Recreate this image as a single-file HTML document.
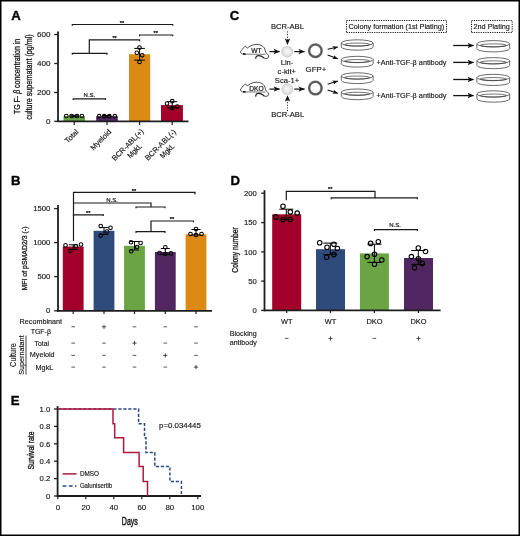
<!DOCTYPE html>
<html><head><meta charset="utf-8"><style>
html,body{margin:0;padding:0;background:#fff;}
svg{display:block;font-family:"Liberation Sans", sans-serif;will-change:transform;}
</style></head><body>
<svg width="520" height="536" viewBox="0 0 520 536">
<rect x="0" y="0" width="520" height="536" fill="#fff"/>
<defs>
<radialGradient id="gc" cx="50%" cy="50%" r="50%"><stop offset="0" stop-color="#f7f7f7"/><stop offset="0.6" stop-color="#e8e8e8"/><stop offset="1" stop-color="#cbcbcb"/></radialGradient>
<marker id="ah" viewBox="0 0 10 10" refX="9.5" refY="5" markerWidth="6.4" markerHeight="5.4" orient="auto" markerUnits="userSpaceOnUse" preserveAspectRatio="none"><path d="M0,0L10,5L0,10L2.5,5z" fill="#111"/></marker>
<marker id="ahs" viewBox="0 0 10 10" refX="9.5" refY="5" markerWidth="5.4" markerHeight="4.4" orient="auto" markerUnits="userSpaceOnUse" preserveAspectRatio="none"><path d="M0,0L10,5L0,10L2.5,5z" fill="#111"/></marker>
<marker id="ahd" viewBox="0 0 10 10" refX="9.5" refY="5" markerWidth="6.6" markerHeight="5.6" orient="auto" markerUnits="userSpaceOnUse" preserveAspectRatio="none"><path d="M0,0L10,5L0,10L2.5,5z" fill="#111"/></marker>
<filter id="bl" x="-20%" y="-20%" width="140%" height="140%"><feGaussianBlur stdDeviation="0.35"/></filter>
</defs>
<text x="11.2" y="19.6" font-size="13.2" text-anchor="start" font-weight="bold" fill="#000" stroke="#000" stroke-width="0.35" >A</text>
<rect x="63.5" y="116" width="21.5" height="5.299999999999997" fill="#6ba543"/>
<rect x="96.2" y="116.2" width="21.599999999999994" height="5.099999999999994" fill="#512761"/>
<rect x="129" y="54.2" width="21.19999999999999" height="67.1" fill="#db8a16"/>
<rect x="161" y="105.1" width="21.900000000000006" height="16.200000000000003" fill="#a3002b"/>
<path d="M134.29999999999998,48.4H144.9M139.6,48.4V60.1M134.29999999999998,60.1H144.9" stroke="#000" stroke-width="1.0" fill="none" />
<circle cx="139.5" cy="47.6" r="1.8" fill="none" stroke="#000" stroke-width="1.05"/>
<circle cx="136.8" cy="52.7" r="1.8" fill="none" stroke="#000" stroke-width="1.05"/>
<circle cx="142.2" cy="55.3" r="1.8" fill="none" stroke="#000" stroke-width="1.05"/>
<circle cx="139.5" cy="62" r="1.8" fill="none" stroke="#000" stroke-width="1.05"/>
<path d="M167.2,101.7H177.2M172.2,101.7V107.8M167.2,107.8H177.2" stroke="#000" stroke-width="1.0" fill="none" />
<circle cx="167" cy="103.6" r="1.8" fill="none" stroke="#000" stroke-width="1.05"/>
<circle cx="172.2" cy="101.2" r="1.8" fill="none" stroke="#000" stroke-width="1.05"/>
<circle cx="177.2" cy="106.6" r="1.8" fill="none" stroke="#000" stroke-width="1.05"/>
<circle cx="172.2" cy="108.1" r="1.8" fill="none" stroke="#000" stroke-width="1.05"/>
<path d="M70.2,115.3H78.2M74.2,115.3V116.8M70.2,116.8H78.2" stroke="#000" stroke-width="1.0" fill="none" />
<circle cx="66.3" cy="116" r="1.8" fill="none" stroke="#000" stroke-width="1.05"/>
<circle cx="71.5" cy="116" r="1.8" fill="none" stroke="#000" stroke-width="1.05"/>
<circle cx="77.1" cy="116" r="1.8" fill="none" stroke="#000" stroke-width="1.05"/>
<circle cx="81.9" cy="116" r="1.8" fill="none" stroke="#000" stroke-width="1.05"/>
<path d="M103,115.5H111M107,115.5V117M103,117H111" stroke="#000" stroke-width="1.0" fill="none" />
<circle cx="99.2" cy="116.2" r="1.8" fill="none" stroke="#000" stroke-width="1.05"/>
<circle cx="104.2" cy="116.2" r="1.8" fill="none" stroke="#000" stroke-width="1.05"/>
<circle cx="109.4" cy="116.2" r="1.8" fill="none" stroke="#000" stroke-width="1.05"/>
<circle cx="114.8" cy="116.2" r="1.8" fill="none" stroke="#000" stroke-width="1.05"/>
<path d="M58,31.4V122.1" stroke="#1e1e1e" stroke-width="1.8" fill="none" />
<path d="M57.1,121.3H188.5" stroke="#1e1e1e" stroke-width="1.8" fill="none" />
<line x1="54.2" y1="34.5" x2="58" y2="34.5" stroke="#1e1e1e" stroke-width="1.3" />
<line x1="54.2" y1="63.5" x2="58" y2="63.5" stroke="#1e1e1e" stroke-width="1.3" />
<line x1="54.2" y1="92.5" x2="58" y2="92.5" stroke="#1e1e1e" stroke-width="1.3" />
<line x1="54.2" y1="121.3" x2="58" y2="121.3" stroke="#1e1e1e" stroke-width="1.3" />
<line x1="74.2" y1="121.3" x2="74.2" y2="125" stroke="#1e1e1e" stroke-width="1.2" />
<line x1="107" y1="121.3" x2="107" y2="125" stroke="#1e1e1e" stroke-width="1.2" />
<line x1="139.6" y1="121.3" x2="139.6" y2="125" stroke="#1e1e1e" stroke-width="1.2" />
<line x1="172.2" y1="121.3" x2="172.2" y2="125" stroke="#1e1e1e" stroke-width="1.2" />
<text x="50.6" y="37.3" font-size="8.1" text-anchor="end" fill="#161616" stroke="#161616" stroke-width="0.15" >600</text>
<text x="50.6" y="66.3" font-size="8.1" text-anchor="end" fill="#161616" stroke="#161616" stroke-width="0.15" >400</text>
<text x="50.6" y="95.3" font-size="8.1" text-anchor="end" fill="#161616" stroke="#161616" stroke-width="0.15" >200</text>
<text x="50.6" y="124.1" font-size="8.1" text-anchor="end" fill="#161616" stroke="#161616" stroke-width="0.15" >0</text>
<g transform="translate(19.5,76.4) rotate(-90)">
<text x="0" y="0" font-size="9.3" text-anchor="middle" fill="#161616" stroke="#161616" stroke-width="0.3" textLength="75.2" lengthAdjust="spacingAndGlyphs" >TG F- <tspan font-style="italic">β</tspan> concentration in</text>
</g>
<g transform="translate(31.6,77) rotate(-90)">
<text x="0" y="0" font-size="9.3" text-anchor="middle" fill="#161616" stroke="#161616" stroke-width="0.3" textLength="85.4" lengthAdjust="spacingAndGlyphs" >culture supernatant (pg/ml)</text>
</g>
<path d="M72.3,25.8V24.5H172.7V25.8" stroke="#1a1a1a" stroke-width="1.2" fill="none" />
<text x="122" y="24.8" font-size="5.6" text-anchor="middle" fill="#161616" stroke="#161616" stroke-width="0.25" >**</text>
<path d="M139.6,36.3V35H172.7V36.3" stroke="#1a1a1a" stroke-width="1.2" fill="none" />
<text x="155.7" y="34.5" font-size="5.6" text-anchor="middle" fill="#161616" stroke="#161616" stroke-width="0.25" >**</text>
<path d="M89.3,53.4V39.9H139.6V41.3" stroke="#1a1a1a" stroke-width="1.2" fill="none" />
<text x="114.6" y="39.6" font-size="5.6" text-anchor="middle" fill="#161616" stroke="#161616" stroke-width="0.25" >**</text>
<path d="M72.3,54.699999999999996V53.4H107V54.699999999999996" stroke="#1a1a1a" stroke-width="1.2" fill="none" />
<path d="M73.2,100.1V98.8H105.5V100.1" stroke="#1a1a1a" stroke-width="1.2" fill="none" />
<text x="89.4" y="96.5" font-size="6.0" text-anchor="middle" fill="#161616" stroke="#161616" stroke-width="0.2" >N.S.</text>
<g transform="translate(79.0,132.4) rotate(-45)">
<text x="0" y="0" font-size="7.5" text-anchor="end" fill="#161616" stroke="#161616" stroke-width="0.15" >Total</text>
</g>
<g transform="translate(111.8,132.4) rotate(-45)">
<text x="0" y="0" font-size="7.5" text-anchor="end" fill="#161616" stroke="#161616" stroke-width="0.15" >Myeloid</text>
</g>
<g transform="translate(144.9,131.5) rotate(-45)">
<text x="-21.5" y="0" font-size="7.6" text-anchor="middle" fill="#161616" stroke="#161616" stroke-width="0.15" textLength="41.4" lengthAdjust="spacingAndGlyphs" >BCR-ABL(+)</text>
<text x="-21.0" y="9.0" font-size="7.6" text-anchor="middle" fill="#161616" stroke="#161616" stroke-width="0.15" textLength="16.8" lengthAdjust="spacingAndGlyphs" >MgkL</text>
</g>
<g transform="translate(177.5,131.5) rotate(-45)">
<text x="-21.5" y="0" font-size="7.6" text-anchor="middle" fill="#161616" stroke="#161616" stroke-width="0.15" textLength="40.3" lengthAdjust="spacingAndGlyphs" >BCR-ABL(-)</text>
<text x="-21.0" y="9.0" font-size="7.6" text-anchor="middle" fill="#161616" stroke="#161616" stroke-width="0.15" textLength="16.8" lengthAdjust="spacingAndGlyphs" >MgkL</text>
</g>
<text x="10.9" y="185" font-size="13.2" text-anchor="start" font-weight="bold" fill="#000" stroke="#000" stroke-width="0.35" >B</text>
<rect x="62.800000000000004" y="246.5" width="20.8" height="64.30000000000001" fill="#a3002b"/>
<rect x="93.6" y="230.8" width="20.8" height="80.0" fill="#2e4b7c"/>
<rect x="124.1" y="245.8" width="20.8" height="65.0" fill="#6ba543"/>
<rect x="154.9" y="252" width="20.8" height="58.80000000000001" fill="#512761"/>
<rect x="185.6" y="234.2" width="20.8" height="76.60000000000002" fill="#db8a16"/>
<path d="M68.7,244.8H77.7M73.2,244.8V249.5M68.7,249.5H77.7" stroke="#000" stroke-width="1.0" fill="none" />
<circle cx="65.5" cy="245.4" r="1.8" fill="none" stroke="#000" stroke-width="1.05"/>
<circle cx="75.9" cy="246.3" r="1.8" fill="none" stroke="#000" stroke-width="1.05"/>
<circle cx="81" cy="244.5" r="1.8" fill="none" stroke="#000" stroke-width="1.05"/>
<circle cx="70.5" cy="250.9" r="1.8" fill="none" stroke="#000" stroke-width="1.05"/>
<path d="M99.5,227.6H108.5M104,227.6V234.5M99.5,234.5H108.5" stroke="#000" stroke-width="1.0" fill="none" />
<circle cx="100.7" cy="226" r="1.8" fill="none" stroke="#000" stroke-width="1.05"/>
<circle cx="110.5" cy="227.8" r="1.8" fill="none" stroke="#000" stroke-width="1.05"/>
<circle cx="107" cy="231.5" r="1.8" fill="none" stroke="#000" stroke-width="1.05"/>
<circle cx="100.7" cy="235.6" r="1.8" fill="none" stroke="#000" stroke-width="1.05"/>
<path d="M130.0,241.5H139.0M134.5,241.5V250M130.0,250H139.0" stroke="#000" stroke-width="1.0" fill="none" />
<circle cx="131" cy="242.2" r="1.8" fill="none" stroke="#000" stroke-width="1.05"/>
<circle cx="140.6" cy="243" r="1.8" fill="none" stroke="#000" stroke-width="1.05"/>
<circle cx="137" cy="247" r="1.8" fill="none" stroke="#000" stroke-width="1.05"/>
<circle cx="131.2" cy="251.2" r="1.8" fill="none" stroke="#000" stroke-width="1.05"/>
<path d="M160.8,248.5H169.8M165.3,248.5V254.5M160.8,254.5H169.8" stroke="#000" stroke-width="1.0" fill="none" />
<circle cx="165.3" cy="247.2" r="1.8" fill="none" stroke="#000" stroke-width="1.05"/>
<circle cx="159.6" cy="253" r="1.8" fill="none" stroke="#000" stroke-width="1.05"/>
<circle cx="165.3" cy="254" r="1.8" fill="none" stroke="#000" stroke-width="1.05"/>
<circle cx="171" cy="253.4" r="1.8" fill="none" stroke="#000" stroke-width="1.05"/>
<path d="M191.5,229.5H200.5M196,229.5V235M191.5,235H200.5" stroke="#000" stroke-width="1.0" fill="none" />
<circle cx="196" cy="229" r="1.8" fill="none" stroke="#000" stroke-width="1.05"/>
<circle cx="190.5" cy="234" r="1.8" fill="none" stroke="#000" stroke-width="1.05"/>
<circle cx="196" cy="235" r="1.8" fill="none" stroke="#000" stroke-width="1.05"/>
<circle cx="201.5" cy="234" r="1.8" fill="none" stroke="#000" stroke-width="1.05"/>
<path d="M58,205V311.7" stroke="#1e1e1e" stroke-width="1.8" fill="none" />
<path d="M57.1,310.8H212" stroke="#1e1e1e" stroke-width="1.8" fill="none" />
<line x1="54.1" y1="208.6" x2="58" y2="208.6" stroke="#1e1e1e" stroke-width="1.3" />
<line x1="54.1" y1="242.6" x2="58" y2="242.6" stroke="#1e1e1e" stroke-width="1.3" />
<line x1="54.1" y1="276.6" x2="58" y2="276.6" stroke="#1e1e1e" stroke-width="1.3" />
<line x1="54.1" y1="310.8" x2="58" y2="310.8" stroke="#1e1e1e" stroke-width="1.3" />
<line x1="73.2" y1="310.8" x2="73.2" y2="314" stroke="#1e1e1e" stroke-width="1.2" />
<line x1="104" y1="310.8" x2="104" y2="314" stroke="#1e1e1e" stroke-width="1.2" />
<line x1="134.5" y1="310.8" x2="134.5" y2="314" stroke="#1e1e1e" stroke-width="1.2" />
<line x1="165.3" y1="310.8" x2="165.3" y2="314" stroke="#1e1e1e" stroke-width="1.2" />
<line x1="196" y1="310.8" x2="196" y2="314" stroke="#1e1e1e" stroke-width="1.2" />
<text x="50.3" y="211.1" font-size="7.7" text-anchor="end" fill="#161616" stroke="#161616" stroke-width="0.15" >1500</text>
<text x="50.3" y="245.2" font-size="7.7" text-anchor="end" fill="#161616" stroke="#161616" stroke-width="0.15" >1000</text>
<text x="50.3" y="279.2" font-size="7.7" text-anchor="end" fill="#161616" stroke="#161616" stroke-width="0.15" >500</text>
<text x="50.3" y="313.2" font-size="7.7" text-anchor="end" fill="#161616" stroke="#161616" stroke-width="0.15" >0</text>
<g transform="translate(27.2,258.5) rotate(-90)">
<text x="0" y="0" font-size="7.6" text-anchor="middle" fill="#161616" stroke="#161616" stroke-width="0.3" textLength="64" lengthAdjust="spacingAndGlyphs" >MFI of pSMAD2/3 (-)</text>
</g>
<path d="M73.5,241V192.3H195V194.4" stroke="#1a1a1a" stroke-width="1.2" fill="none" />
<text x="134" y="192.6" font-size="5.6" text-anchor="middle" fill="#161616" stroke="#161616" stroke-width="0.25" >**</text>
<path d="M73.5,203H151V207" stroke="#1a1a1a" stroke-width="1.2" fill="none" />
<path d="M136,208.3V207H165V208.3" stroke="#1a1a1a" stroke-width="1.2" fill="none" />
<text x="112" y="201.6" font-size="6.0" text-anchor="middle" fill="#161616" stroke="#161616" stroke-width="0.2" >N.S.</text>
<path d="M73.5,216.10000000000002V214.8H103.3V216.10000000000002" stroke="#1a1a1a" stroke-width="1.2" fill="none" />
<text x="88.2" y="215.1" font-size="5.6" text-anchor="middle" fill="#161616" stroke="#161616" stroke-width="0.25" >**</text>
<path d="M151,231.7V221H193.5V222.3" stroke="#1a1a1a" stroke-width="1.2" fill="none" />
<path d="M136,233.0V231.7H165V233.0" stroke="#1a1a1a" stroke-width="1.2" fill="none" />
<text x="172" y="221.1" font-size="5.6" text-anchor="middle" fill="#161616" stroke="#161616" stroke-width="0.25" >**</text>
<text x="19.6" y="324.4" font-size="7.4" text-anchor="start" fill="#161616" stroke="#161616" stroke-width="0.15" textLength="42.4" lengthAdjust="spacingAndGlyphs" >Recombinant</text>
<text x="40.8" y="333.5" font-size="7.4" text-anchor="middle" fill="#161616" stroke="#161616" stroke-width="0.15" textLength="20.3" lengthAdjust="spacingAndGlyphs" >TGF-β</text>
<text x="34.6" y="345.6" font-size="7.4" text-anchor="start" fill="#161616" stroke="#161616" stroke-width="0.15" textLength="14.4" lengthAdjust="spacingAndGlyphs" >Total</text>
<text x="29.8" y="357.3" font-size="7.4" text-anchor="start" fill="#161616" stroke="#161616" stroke-width="0.15" textLength="24.8" lengthAdjust="spacingAndGlyphs" >Myeloid</text>
<text x="35.6" y="369.5" font-size="7.4" text-anchor="start" fill="#161616" stroke="#161616" stroke-width="0.15" textLength="17.7" lengthAdjust="spacingAndGlyphs" >MgkL</text>
<g transform="translate(16.3,355.1) rotate(-90)">
<text x="0" y="0" font-size="8.4" text-anchor="middle" fill="#161616" stroke="#161616" stroke-width="0.15" textLength="23.6" lengthAdjust="spacingAndGlyphs" >Culture</text>
</g>
<g transform="translate(24.2,355.1) rotate(-90)">
<text x="0" y="0" font-size="7.4" text-anchor="middle" fill="#161616" stroke="#161616" stroke-width="0.15" textLength="39.2" lengthAdjust="spacingAndGlyphs" >Supernatant</text>
</g>
<line x1="26.0" y1="335.5" x2="26.0" y2="374.7" stroke="#111" stroke-width="0.8" />
<line x1="71.4" y1="326.8" x2="75.0" y2="326.8" stroke="#222" stroke-width="0.75" />
<path d="M101.9,326.8H106.1M104,324.7V328.90000000000003" stroke="#222" stroke-width="0.8" fill="none" />
<line x1="132.7" y1="326.8" x2="136.3" y2="326.8" stroke="#222" stroke-width="0.75" />
<line x1="163.5" y1="326.8" x2="167.10000000000002" y2="326.8" stroke="#222" stroke-width="0.75" />
<line x1="194.2" y1="326.8" x2="197.8" y2="326.8" stroke="#222" stroke-width="0.75" />
<line x1="71.4" y1="343.1" x2="75.0" y2="343.1" stroke="#222" stroke-width="0.75" />
<line x1="102.2" y1="343.1" x2="105.8" y2="343.1" stroke="#222" stroke-width="0.75" />
<path d="M132.4,343.1H136.6M134.5,341.0V345.20000000000005" stroke="#222" stroke-width="0.8" fill="none" />
<line x1="163.5" y1="343.1" x2="167.10000000000002" y2="343.1" stroke="#222" stroke-width="0.75" />
<line x1="194.2" y1="343.1" x2="197.8" y2="343.1" stroke="#222" stroke-width="0.75" />
<line x1="71.4" y1="355.4" x2="75.0" y2="355.4" stroke="#222" stroke-width="0.75" />
<line x1="102.2" y1="355.4" x2="105.8" y2="355.4" stroke="#222" stroke-width="0.75" />
<line x1="132.7" y1="355.4" x2="136.3" y2="355.4" stroke="#222" stroke-width="0.75" />
<path d="M163.20000000000002,355.4H167.4M165.3,353.29999999999995V357.5" stroke="#222" stroke-width="0.8" fill="none" />
<line x1="194.2" y1="355.4" x2="197.8" y2="355.4" stroke="#222" stroke-width="0.75" />
<line x1="71.4" y1="367.1" x2="75.0" y2="367.1" stroke="#222" stroke-width="0.75" />
<line x1="102.2" y1="367.1" x2="105.8" y2="367.1" stroke="#222" stroke-width="0.75" />
<line x1="132.7" y1="367.1" x2="136.3" y2="367.1" stroke="#222" stroke-width="0.75" />
<line x1="163.5" y1="367.1" x2="167.10000000000002" y2="367.1" stroke="#222" stroke-width="0.75" />
<path d="M193.9,367.1H198.1M196,365.0V369.20000000000005" stroke="#222" stroke-width="0.8" fill="none" />
<text x="229.8" y="19.7" font-size="13.2" text-anchor="start" font-weight="bold" fill="#000" stroke="#000" stroke-width="0.35" >C</text>
<path d="M240.3,52.1C241.5,50.3 243,48 244.6,46.8L245.6,46.3L247.4,48.2C249,46.5 252,44.6 256,44.4C260,44.2 263,45.8 264.3,48C265.3,50 265.5,52 266.2,53.2C267.8,54.2 269,55.5 268.6,57C268.2,58.5 266,58.8 264.5,58.4M240.3,52.1C240.8,53.2 241.8,53.8 242.6,54" stroke="#222" stroke-width="0.8" fill="none" />
<line x1="242.6" y1="54.1" x2="265.5" y2="54.3" stroke="#777" stroke-width="1.0" />
<line x1="243" y1="53.9" x2="245.6" y2="54.2" stroke="#111" stroke-width="1.6" />
<path d="M255.6,58.8C255.8,56.5 257,55.4 259,55.6C261.5,55.8 263,57 264.5,58.4" stroke="#222" stroke-width="1.2" fill="none" />
<text x="256.4" y="52.8" font-size="6.7" text-anchor="middle" fill="#161616" stroke="#161616" stroke-width="0.2" >WT</text>
<path d="M240.3,89.9C241.5,88.1 243,85.8 244.6,84.6L245.6,84.1L247.4,86.0C249,84.3 252,82.4 256,82.19999999999999C260,82.0 263,83.6 264.3,85.8C265.3,87.8 265.5,89.8 266.2,91.0C267.8,92.0 269,93.3 268.6,94.8C268.2,96.3 266,96.6 264.5,96.19999999999999M240.3,89.9C240.8,91.0 241.8,91.6 242.6,91.8" stroke="#222" stroke-width="0.8" fill="none" />
<line x1="242.6" y1="91.9" x2="265.5" y2="92.1" stroke="#777" stroke-width="1.0" />
<line x1="243" y1="91.69999999999999" x2="245.6" y2="92.0" stroke="#111" stroke-width="1.6" />
<path d="M255.6,96.6C255.8,94.3 257,93.19999999999999 259,93.4C261.5,93.6 263,94.8 264.5,96.19999999999999" stroke="#222" stroke-width="1.2" fill="none" />
<text x="256.4" y="91.1" font-size="6.7" text-anchor="middle" fill="#161616" stroke="#161616" stroke-width="0.2" >DKO</text>
<line x1="269.5" y1="51.6" x2="279.6" y2="51.6" stroke="#111" stroke-width="1.2" marker-end="url(#ah)"/>
<circle cx="287.2" cy="51.6" r="5.9" fill="url(#gc)"/>
<line x1="294.3" y1="51.6" x2="304.5" y2="51.6" stroke="#111" stroke-width="1.2" marker-end="url(#ah)"/>
<circle cx="315.4" cy="50.7" r="6.25" fill="none" stroke="#6a6a6a" stroke-width="2.5" filter="url(#bl)"/>
<circle cx="315.4" cy="50.7" r="6.25" fill="none" stroke="#505050" stroke-width="0.9"/>
<line x1="269.5" y1="89.1" x2="279.6" y2="89.1" stroke="#111" stroke-width="1.2" marker-end="url(#ah)"/>
<circle cx="287.2" cy="89.1" r="5.9" fill="url(#gc)"/>
<line x1="294.3" y1="89.1" x2="304.5" y2="89.1" stroke="#111" stroke-width="1.2" marker-end="url(#ah)"/>
<circle cx="315.4" cy="88.1" r="6.25" fill="none" stroke="#6a6a6a" stroke-width="2.5" filter="url(#bl)"/>
<circle cx="315.4" cy="88.1" r="6.25" fill="none" stroke="#505050" stroke-width="0.9"/>
<text x="287.4" y="28.7" font-size="7.5" text-anchor="middle" fill="#161616" stroke="#161616" stroke-width="0.15" textLength="33" lengthAdjust="spacingAndGlyphs" >BCR-ABL</text>
<line x1="287.5" y1="31.5" x2="287.5" y2="44.6" stroke="#111" stroke-width="1.0" stroke-dasharray="1 1.6" marker-end="url(#ahd)"/>
<text x="287.7" y="117.4" font-size="7.5" text-anchor="middle" fill="#161616" stroke="#161616" stroke-width="0.15" textLength="33" lengthAdjust="spacingAndGlyphs" >BCR-ABL</text>
<line x1="287.5" y1="111" x2="287.5" y2="95.5" stroke="#111" stroke-width="1.0" stroke-dasharray="1 1.6" marker-end="url(#ahd)"/>
<text x="287" y="65.4" font-size="7.6" text-anchor="middle" fill="#161616" stroke="#161616" stroke-width="0.15" >Lin-</text>
<text x="286.8" y="74.2" font-size="7.6" text-anchor="middle" fill="#161616" stroke="#161616" stroke-width="0.15" >c-kit+</text>
<text x="287" y="82.9" font-size="7.6" text-anchor="middle" fill="#161616" stroke="#161616" stroke-width="0.15" >Sca-1+</text>
<text x="316" y="71.7" font-size="7.9" text-anchor="middle" fill="#161616" stroke="#161616" stroke-width="0.15" >GFP+</text>
<line x1="327.6" y1="49.3" x2="337.8" y2="47.0" stroke="#111" stroke-width="1.1" marker-end="url(#ahs)"/>
<line x1="327.6" y1="55" x2="337.8" y2="58.8" stroke="#111" stroke-width="1.1" marker-end="url(#ahs)"/>
<line x1="327.6" y1="84.2" x2="337.8" y2="81.0" stroke="#111" stroke-width="1.1" marker-end="url(#ahs)"/>
<line x1="327.6" y1="90" x2="337.8" y2="93.3" stroke="#111" stroke-width="1.1" marker-end="url(#ahs)"/>
<path d="M341.3,43.0A15.9,3.2 0 1 1 373.09999999999997,43.0A15.9,3.2 0 1 1 341.3,43.0M341.3,43.0V47.0A15.9,3.2 0 0 0 373.09999999999997,47.0V43.0" stroke="#3a3a3a" stroke-width="0.75" fill="none" />
<ellipse cx="357.2" cy="44.49999999999999" rx="12.5" ry="1.45" fill="none" stroke="#3a3a3a" stroke-width="0.7"/>
<path d="M341.3,59.5A15.9,3.2 0 1 1 373.09999999999997,59.5A15.9,3.2 0 1 1 341.3,59.5M341.3,59.5V63.89999999999999A15.9,3.2 0 0 0 373.09999999999997,63.89999999999999V59.5" stroke="#3a3a3a" stroke-width="0.75" fill="none" />
<ellipse cx="357.2" cy="60.99999999999999" rx="12.5" ry="1.45" fill="none" stroke="#3a3a3a" stroke-width="0.7"/>
<path d="M341.3,76.0A15.9,3.2 0 1 1 373.09999999999997,76.0A15.9,3.2 0 1 1 341.3,76.0M341.3,76.0V80.39999999999999A15.9,3.2 0 0 0 373.09999999999997,80.39999999999999V76.0" stroke="#3a3a3a" stroke-width="0.75" fill="none" />
<ellipse cx="357.2" cy="77.5" rx="12.5" ry="1.45" fill="none" stroke="#3a3a3a" stroke-width="0.7"/>
<path d="M341.3,92.2A15.9,3.2 0 1 1 373.09999999999997,92.2A15.9,3.2 0 1 1 341.3,92.2M341.3,92.2V96.5A15.9,3.2 0 0 0 373.09999999999997,96.5V92.2" stroke="#3a3a3a" stroke-width="0.75" fill="none" />
<ellipse cx="357.2" cy="93.7" rx="12.5" ry="1.45" fill="none" stroke="#3a3a3a" stroke-width="0.7"/>
<path d="M476.90000000000003,43.800000000000004A16.4,3.2 0 1 1 509.7,43.800000000000004A16.4,3.2 0 1 1 476.90000000000003,43.800000000000004M476.90000000000003,43.800000000000004V48.699999999999996A16.4,3.2 0 0 0 509.7,48.699999999999996V43.800000000000004" stroke="#3a3a3a" stroke-width="0.75" fill="none" />
<ellipse cx="493.3" cy="45.3" rx="12.999999999999998" ry="1.45" fill="none" stroke="#3a3a3a" stroke-width="0.7"/>
<path d="M476.90000000000003,60.800000000000004A16.4,3.2 0 1 1 509.7,60.800000000000004A16.4,3.2 0 1 1 476.90000000000003,60.800000000000004M476.90000000000003,60.800000000000004V65.5A16.4,3.2 0 0 0 509.7,65.5V60.800000000000004" stroke="#3a3a3a" stroke-width="0.75" fill="none" />
<ellipse cx="493.3" cy="62.3" rx="12.999999999999998" ry="1.45" fill="none" stroke="#3a3a3a" stroke-width="0.7"/>
<path d="M476.90000000000003,77.5A16.4,3.2 0 1 1 509.7,77.5A16.4,3.2 0 1 1 476.90000000000003,77.5M476.90000000000003,77.5V82.3A16.4,3.2 0 0 0 509.7,82.3V77.5" stroke="#3a3a3a" stroke-width="0.75" fill="none" />
<ellipse cx="493.3" cy="79.0" rx="12.999999999999998" ry="1.45" fill="none" stroke="#3a3a3a" stroke-width="0.7"/>
<path d="M476.90000000000003,94.0A16.4,3.2 0 1 1 509.7,94.0A16.4,3.2 0 1 1 476.90000000000003,94.0M476.90000000000003,94.0V99.0A16.4,3.2 0 0 0 509.7,99.0V94.0" stroke="#3a3a3a" stroke-width="0.75" fill="none" />
<ellipse cx="493.3" cy="95.5" rx="12.999999999999998" ry="1.45" fill="none" stroke="#3a3a3a" stroke-width="0.7"/>
<line x1="453.2" y1="45.5" x2="473.6" y2="45.5" stroke="#111" stroke-width="1.3" marker-end="url(#ah)"/>
<line x1="453.2" y1="62.4" x2="473.6" y2="62.4" stroke="#111" stroke-width="1.3" marker-end="url(#ah)"/>
<line x1="453.2" y1="79.5" x2="473.6" y2="79.5" stroke="#111" stroke-width="1.3" marker-end="url(#ah)"/>
<line x1="453.2" y1="95.6" x2="473.6" y2="95.6" stroke="#111" stroke-width="1.3" marker-end="url(#ah)"/>
<line x1="346.5" y1="20.5" x2="446.5" y2="20.5" stroke="#1a1a1a" stroke-width="1.0" stroke-dasharray="1.2 1.1"/>
<line x1="346.5" y1="32.5" x2="446.5" y2="32.5" stroke="#1a1a1a" stroke-width="1.0" stroke-dasharray="1.2 1.1"/>
<line x1="346.5" y1="21.5" x2="346.5" y2="32.0" stroke="#1a1a1a" stroke-width="1.0" stroke-dasharray="1.2 1.1"/>
<line x1="446.5" y1="21.5" x2="446.5" y2="32.0" stroke="#1a1a1a" stroke-width="1.0" stroke-dasharray="1.2 1.1"/>
<text x="348.6" y="29.4" font-size="7.5" text-anchor="start" fill="#161616" stroke="#161616" stroke-width="0.15" textLength="95.6" lengthAdjust="spacingAndGlyphs" >Colony formation (1st Plating)</text>
<line x1="471.5" y1="20.5" x2="512.2" y2="20.5" stroke="#1a1a1a" stroke-width="1.0" stroke-dasharray="1.2 1.1"/>
<line x1="471.5" y1="32.5" x2="512.2" y2="32.5" stroke="#1a1a1a" stroke-width="1.0" stroke-dasharray="1.2 1.1"/>
<line x1="471.5" y1="21.5" x2="471.5" y2="32.0" stroke="#1a1a1a" stroke-width="1.0" stroke-dasharray="1.2 1.1"/>
<line x1="512.2" y1="21.5" x2="512.2" y2="32.0" stroke="#1a1a1a" stroke-width="1.0" stroke-dasharray="1.2 1.1"/>
<text x="491.7" y="29.4" font-size="7.4" text-anchor="middle" fill="#161616" stroke="#161616" stroke-width="0.15" textLength="36.4" lengthAdjust="spacingAndGlyphs" >2nd Plating</text>
<text x="376.4" y="65.1" font-size="7.5" text-anchor="start" fill="#161616" stroke="#161616" stroke-width="0.15" textLength="70" lengthAdjust="spacingAndGlyphs" >+Anti-TGF-β antibody</text>
<text x="376.4" y="98.3" font-size="7.5" text-anchor="start" fill="#161616" stroke="#161616" stroke-width="0.15" textLength="70" lengthAdjust="spacingAndGlyphs" >+Anti-TGF-β antibody</text>
<text x="230.4" y="184.8" font-size="13.2" text-anchor="start" font-weight="bold" fill="#000" stroke="#000" stroke-width="0.35" >D</text>
<rect x="272.2" y="214.3" width="29" height="96.09999999999997" fill="#a3002b"/>
<rect x="316.0" y="249.2" width="29" height="61.19999999999999" fill="#2e4b7c"/>
<rect x="359.9" y="253.4" width="29" height="56.99999999999997" fill="#6ba543"/>
<rect x="404.0" y="258" width="29" height="52.39999999999998" fill="#512761"/>
<path d="M279.3,209.2H293.3M286.3,209.2V219.6M279.3,219.6H293.3" stroke="#000" stroke-width="1.0" fill="none" />
<circle cx="283" cy="206.2" r="2.25" fill="none" stroke="#000" stroke-width="1.1"/>
<circle cx="290.3" cy="211.9" r="2.25" fill="none" stroke="#000" stroke-width="1.1"/>
<circle cx="297.2" cy="213.1" r="2.25" fill="none" stroke="#000" stroke-width="1.1"/>
<circle cx="275.8" cy="216.9" r="2.25" fill="none" stroke="#000" stroke-width="1.1"/>
<circle cx="283" cy="219.8" r="2.25" fill="none" stroke="#000" stroke-width="1.1"/>
<circle cx="290.2" cy="219.5" r="2.25" fill="none" stroke="#000" stroke-width="1.1"/>
<path d="M323.3,243.1H337.3M330.3,243.1V254.6M323.3,254.6H337.3" stroke="#000" stroke-width="1.0" fill="none" />
<circle cx="319.7" cy="242.7" r="2.25" fill="none" stroke="#000" stroke-width="1.1"/>
<circle cx="327" cy="247.3" r="2.25" fill="none" stroke="#000" stroke-width="1.1"/>
<circle cx="333.9" cy="244.2" r="2.25" fill="none" stroke="#000" stroke-width="1.1"/>
<circle cx="337.4" cy="248.5" r="2.25" fill="none" stroke="#000" stroke-width="1.1"/>
<circle cx="333.9" cy="254.6" r="2.25" fill="none" stroke="#000" stroke-width="1.1"/>
<circle cx="326.6" cy="257.3" r="2.25" fill="none" stroke="#000" stroke-width="1.1"/>
<path d="M367.4,244.2H381.4M374.4,244.2V262.4M367.4,262.4H381.4" stroke="#000" stroke-width="1.0" fill="none" />
<circle cx="370.6" cy="243.4" r="2.25" fill="none" stroke="#000" stroke-width="1.1"/>
<circle cx="378.3" cy="241.8" r="2.25" fill="none" stroke="#000" stroke-width="1.1"/>
<circle cx="374.5" cy="254.2" r="2.25" fill="none" stroke="#000" stroke-width="1.1"/>
<circle cx="367.1" cy="256.6" r="2.25" fill="none" stroke="#000" stroke-width="1.1"/>
<circle cx="381.8" cy="260" r="2.25" fill="none" stroke="#000" stroke-width="1.1"/>
<circle cx="374.5" cy="264.3" r="2.25" fill="none" stroke="#000" stroke-width="1.1"/>
<path d="M411.3,250.5H425.3M418.3,250.5V264.3M411.3,264.3H425.3" stroke="#000" stroke-width="1.0" fill="none" />
<circle cx="418.3" cy="248" r="2.25" fill="none" stroke="#000" stroke-width="1.1"/>
<circle cx="425.5" cy="251.5" r="2.25" fill="none" stroke="#000" stroke-width="1.1"/>
<circle cx="411.4" cy="256.6" r="2.25" fill="none" stroke="#000" stroke-width="1.1"/>
<circle cx="418.3" cy="258.8" r="2.25" fill="none" stroke="#000" stroke-width="1.1"/>
<circle cx="422.2" cy="263.4" r="2.25" fill="none" stroke="#000" stroke-width="1.1"/>
<circle cx="414.5" cy="267.7" r="2.25" fill="none" stroke="#000" stroke-width="1.1"/>
<path d="M264.5,190.2V311.3" stroke="#1e1e1e" stroke-width="1.8" fill="none" />
<path d="M263.6,310.4H440.6" stroke="#1e1e1e" stroke-width="1.8" fill="none" />
<line x1="261.2" y1="193.2" x2="264.5" y2="193.2" stroke="#1e1e1e" stroke-width="1.3" />
<line x1="261.2" y1="222.6" x2="264.5" y2="222.6" stroke="#1e1e1e" stroke-width="1.3" />
<line x1="261.2" y1="251.9" x2="264.5" y2="251.9" stroke="#1e1e1e" stroke-width="1.3" />
<line x1="261.2" y1="281.1" x2="264.5" y2="281.1" stroke="#1e1e1e" stroke-width="1.3" />
<line x1="261.2" y1="310.4" x2="264.5" y2="310.4" stroke="#1e1e1e" stroke-width="1.3" />
<line x1="286.7" y1="310.4" x2="286.7" y2="313" stroke="#1e1e1e" stroke-width="1.2" />
<line x1="330.5" y1="310.4" x2="330.5" y2="313" stroke="#1e1e1e" stroke-width="1.2" />
<line x1="374.4" y1="310.4" x2="374.4" y2="313" stroke="#1e1e1e" stroke-width="1.2" />
<line x1="418.5" y1="310.4" x2="418.5" y2="313" stroke="#1e1e1e" stroke-width="1.2" />
<text x="256.9" y="195.89999999999998" font-size="7.7" text-anchor="end" fill="#161616" stroke="#161616" stroke-width="0.15" >200</text>
<text x="256.9" y="225.29999999999998" font-size="7.7" text-anchor="end" fill="#161616" stroke="#161616" stroke-width="0.15" >150</text>
<text x="256.9" y="254.6" font-size="7.7" text-anchor="end" fill="#161616" stroke="#161616" stroke-width="0.15" >100</text>
<text x="256.9" y="283.8" font-size="7.7" text-anchor="end" fill="#161616" stroke="#161616" stroke-width="0.15" >50</text>
<text x="256.9" y="313.09999999999997" font-size="7.7" text-anchor="end" fill="#161616" stroke="#161616" stroke-width="0.15" >0</text>
<g transform="translate(237.6,250) rotate(-90)">
<text x="0" y="0" font-size="8.8" text-anchor="middle" fill="#161616" stroke="#161616" stroke-width="0.3" textLength="45.3" lengthAdjust="spacingAndGlyphs" >Colony number</text>
</g>
<path d="M286.3,200.2V191.4H375V197.9" stroke="#1a1a1a" stroke-width="1.2" fill="none" />
<path d="M331.2,199.20000000000002V197.9H417.4V199.20000000000002" stroke="#1a1a1a" stroke-width="1.2" fill="none" />
<text x="330.3" y="191.29999999999998" font-size="5.6" text-anchor="middle" fill="#161616" stroke="#161616" stroke-width="0.25" >**</text>
<path d="M374.4,231.0V229.7H417.4V231.0" stroke="#1a1a1a" stroke-width="1.2" fill="none" />
<text x="395.2" y="227" font-size="6.0" text-anchor="middle" fill="#161616" stroke="#161616" stroke-width="0.2" >N.S.</text>
<text x="286.7" y="324.4" font-size="7.4" text-anchor="middle" fill="#161616" stroke="#161616" stroke-width="0.15" >WT</text>
<text x="330.5" y="324.4" font-size="7.4" text-anchor="middle" fill="#161616" stroke="#161616" stroke-width="0.15" >WT</text>
<text x="374.4" y="324.4" font-size="7.4" text-anchor="middle" fill="#161616" stroke="#161616" stroke-width="0.15" >DKO</text>
<text x="418.5" y="324.4" font-size="7.4" text-anchor="middle" fill="#161616" stroke="#161616" stroke-width="0.15" >DKO</text>
<text x="229.8" y="335.8" font-size="7.4" text-anchor="start" fill="#161616" stroke="#161616" stroke-width="0.15" textLength="26.9" lengthAdjust="spacingAndGlyphs" >Blocking</text>
<text x="229.8" y="345" font-size="7.4" text-anchor="start" fill="#161616" stroke="#161616" stroke-width="0.15" textLength="26.9" lengthAdjust="spacingAndGlyphs" >antibody</text>
<line x1="284.9" y1="338.4" x2="288.5" y2="338.4" stroke="#222" stroke-width="0.75" />
<path d="M328.4,338.4H332.6M330.5,336.29999999999995V340.5" stroke="#222" stroke-width="0.8" fill="none" />
<line x1="372.59999999999997" y1="338.4" x2="376.2" y2="338.4" stroke="#222" stroke-width="0.75" />
<path d="M416.4,338.4H420.6M418.5,336.29999999999995V340.5" stroke="#222" stroke-width="0.8" fill="none" />
<text x="10.8" y="404.8" font-size="13.2" text-anchor="start" font-weight="bold" fill="#000" stroke="#000" stroke-width="0.35" >E</text>
<path d="M57.6,406.1V497" stroke="#1e1e1e" stroke-width="1.8" fill="none" />
<path d="M56.8,496H201" stroke="#1e1e1e" stroke-width="1.8" fill="none" />
<line x1="54" y1="409" x2="57.6" y2="409" stroke="#1e1e1e" stroke-width="1.3" />
<text x="50.3" y="411.7" font-size="7.7" text-anchor="end" fill="#161616" stroke="#161616" stroke-width="0.15" >1.0</text>
<line x1="54" y1="426.4" x2="57.6" y2="426.4" stroke="#1e1e1e" stroke-width="1.3" />
<text x="50.3" y="429.09999999999997" font-size="7.7" text-anchor="end" fill="#161616" stroke="#161616" stroke-width="0.15" >0.8</text>
<line x1="54" y1="443.8" x2="57.6" y2="443.8" stroke="#1e1e1e" stroke-width="1.3" />
<text x="50.3" y="446.5" font-size="7.7" text-anchor="end" fill="#161616" stroke="#161616" stroke-width="0.15" >0.6</text>
<line x1="54" y1="461.2" x2="57.6" y2="461.2" stroke="#1e1e1e" stroke-width="1.3" />
<text x="50.3" y="463.9" font-size="7.7" text-anchor="end" fill="#161616" stroke="#161616" stroke-width="0.15" >0.4</text>
<line x1="54" y1="478.6" x2="57.6" y2="478.6" stroke="#1e1e1e" stroke-width="1.3" />
<text x="50.3" y="481.3" font-size="7.7" text-anchor="end" fill="#161616" stroke="#161616" stroke-width="0.15" >0.2</text>
<line x1="54" y1="496" x2="57.6" y2="496" stroke="#1e1e1e" stroke-width="1.3" />
<text x="50.3" y="498.7" font-size="7.7" text-anchor="end" fill="#161616" stroke="#161616" stroke-width="0.15" >0</text>
<line x1="57.8" y1="496" x2="57.8" y2="499.2" stroke="#1e1e1e" stroke-width="1.2" />
<text x="57.8" y="509.8" font-size="7.8" text-anchor="middle" fill="#161616" stroke="#161616" stroke-width="0.15" >0</text>
<line x1="85.8" y1="496" x2="85.8" y2="499.2" stroke="#1e1e1e" stroke-width="1.2" />
<text x="85.8" y="509.8" font-size="7.8" text-anchor="middle" fill="#161616" stroke="#161616" stroke-width="0.15" >20</text>
<line x1="113.8" y1="496" x2="113.8" y2="499.2" stroke="#1e1e1e" stroke-width="1.2" />
<text x="113.8" y="509.8" font-size="7.8" text-anchor="middle" fill="#161616" stroke="#161616" stroke-width="0.15" >40</text>
<line x1="141.8" y1="496" x2="141.8" y2="499.2" stroke="#1e1e1e" stroke-width="1.2" />
<text x="141.8" y="509.8" font-size="7.8" text-anchor="middle" fill="#161616" stroke="#161616" stroke-width="0.15" >60</text>
<line x1="169.8" y1="496" x2="169.8" y2="499.2" stroke="#1e1e1e" stroke-width="1.2" />
<text x="169.8" y="509.8" font-size="7.8" text-anchor="middle" fill="#161616" stroke="#161616" stroke-width="0.15" >80</text>
<line x1="197.8" y1="496" x2="197.8" y2="499.2" stroke="#1e1e1e" stroke-width="1.2" />
<text x="197.8" y="509.8" font-size="7.8" text-anchor="middle" fill="#161616" stroke="#161616" stroke-width="0.15" >100</text>
<text x="129.8" y="524.6" font-size="10.8" text-anchor="middle" fill="#161616" stroke="#161616" stroke-width="0.45" textLength="15.9" lengthAdjust="spacingAndGlyphs" >Days</text>
<g transform="translate(33.7,450.5) rotate(-90)">
<text x="0" y="0" font-size="8.6" text-anchor="middle" fill="#161616" stroke="#161616" stroke-width="0.35" textLength="37.9" lengthAdjust="spacingAndGlyphs" >Survival rate</text>
</g>
<path d="M58.3,409H138.6V423.7H144.5V437.7H146V452.6H154.8V466.5H169.9V481.5H181.4V496" stroke="#2a4a80" stroke-width="1.5" fill="none" stroke-dasharray="3.2 1.8"/>
<path d="M58.3,409H113V423.7H114.7V437.7H123.6V452.6H139.1V466.5H143.2V481.5H147.5V496" stroke="#b0173d" stroke-width="1.5" fill="none" stroke-linejoin="miter"/>
<line x1="62.6" y1="473.9" x2="76.5" y2="473.9" stroke="#b0173d" stroke-width="1.5" />
<line x1="62.6" y1="486" x2="76.5" y2="486" stroke="#2a4a80" stroke-width="1.5" stroke-dasharray="3.8 2.4"/>
<text x="79.9" y="476.4" font-size="6.4" text-anchor="start" fill="#161616" stroke="#161616" stroke-width="0.15" textLength="19.1" lengthAdjust="spacingAndGlyphs" >DMSO</text>
<text x="79.9" y="488.4" font-size="6.4" text-anchor="start" fill="#161616" stroke="#161616" stroke-width="0.15" textLength="32.3" lengthAdjust="spacingAndGlyphs" >Galunisertib</text>
<text x="159" y="427.5" font-size="7.5" text-anchor="start" fill="#161616" stroke="#161616" stroke-width="0.15" textLength="41.8" lengthAdjust="spacingAndGlyphs" >p=0.034445</text>
<rect x="0.75" y="0.75" width="518.5" height="534.5" fill="none" stroke="#000" stroke-width="1.5"/>
</svg>
</body></html>
